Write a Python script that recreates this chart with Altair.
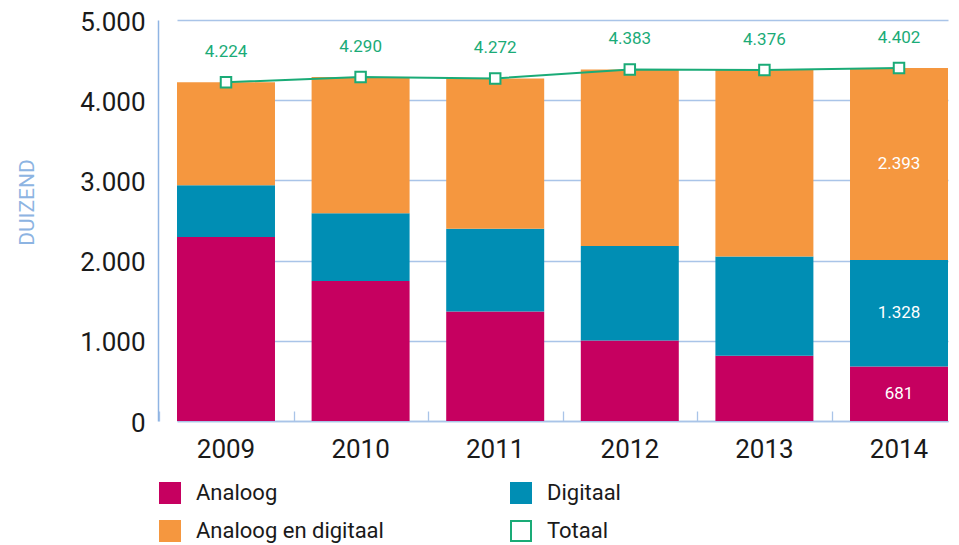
import altair as alt
import pandas as pd

years = ["2009", "2010", "2011", "2012", "2013", "2014"]
analoog = [2294, 1746, 1365, 1004, 813, 681]
digitaal = [644, 843, 1033, 1179, 1237, 1328]
analoog_digitaal = [1286, 1701, 1874, 2200, 2326, 2393]
totaal = [4224, 4290, 4272, 4383, 4376, 4402]

# legend entries are laid out column by column
series_names = ["Analoog", "Analoog en digitaal", "Digitaal", "Totaal"]
fill_colors = ["#c60060", "#f5973f", "#008eb4", "#ffffff"]
stroke_colors = ["#c60060", "#f5973f", "#008eb4", "#1aab77"]
stack_order = {"Analoog": 0, "Digitaal": 1, "Analoog en digitaal": 2}
labelled_year = "2014"

rows = []
for i, y in enumerate(years):
    for name, vals in [("Analoog", analoog), ("Digitaal", digitaal), ("Analoog en digitaal", analoog_digitaal)]:
        rows.append({"year": y, "series": name, "value": vals[i], "order": stack_order[name]})
bars_df = pd.DataFrame(rows)
tot_df = pd.DataFrame({"year": years, "value": totaal, "series": ["Totaal"] * len(years)})

GRID = "#a9c4e8"
GREEN = "#1aab77"
FMT = "replace(format(datum.value, ','), ',', '.')"
PLOT_H = 401

x_scale = alt.Scale(paddingInner=0.272, paddingOuter=0, range=[19, 790])
x_enc = alt.X(
    "year:N", sort=years, scale=x_scale,
    axis=alt.Axis(
        orient="bottom", title=None, labelAngle=0, labelFontSize=26, labelColor="#1a1a1a",
        ticks=False, domain=True, domainColor=GRID, domainWidth=1.5, labelPadding=15,
    ),
)
x_none = alt.X("year:N", sort=years, scale=x_scale, axis=None)
# small upward ticks between the bars, drawn by a second x axis moved onto the baseline
x_ticks = alt.X(
    "year:N", sort=years, scale=x_scale,
    axis=alt.Axis(
        orient="top", offset=-PLOT_H, labels=False, domain=False, ticks=True, grid=False,
        tickSize=10, tickColor=GRID, tickWidth=1.3, bandPosition=0, tickOffset=-18, title=None,
    ),
)

y_scale = alt.Scale(domain=[0, 5000], nice=False)
y_axis = alt.Axis(
    values=[0, 1000, 2000, 3000, 4000, 5000], labelExpr=FMT, ticks=False,
    domain=True, domainColor="#8fb4e3", domainWidth=1.5,
    grid=True, gridColor=GRID, gridWidth=1.3,
    labelFontSize=26, labelColor="#1a1a1a", labelPadding=13, labelOffset=2,
    title="DUIZEND", titleColor="#8db4e2", titleFontSize=21, titleFontWeight="normal",
    titleX=-131, titleY=182, titleAngle=270, titleAlign="center", titleBaseline="middle",
)

fill_scale = alt.Scale(domain=series_names, range=fill_colors)
stroke_scale = alt.Scale(domain=series_names, range=stroke_colors)

legend = alt.Legend(
    title=None, orient="none", legendX=1, legendY=462, columns=2,
    symbolType="square", symbolSize=400, symbolStrokeWidth=2,
    labelFontSize=22, labelColor="#1a1a1a", labelOffset=15,
    rowPadding=10, columnPadding=123, gridAlign="all", labelLimit=400,
)

bars = alt.Chart(bars_df).mark_bar().encode(
    x=x_enc,
    y=alt.Y("value:Q", stack="zero", scale=y_scale, axis=y_axis),
    fill=alt.Fill("series:N", scale=fill_scale, legend=legend),
    stroke=alt.Stroke("series:N", scale=stroke_scale, legend=legend),
    strokeWidth=alt.value(0),
    order=alt.Order("order:Q", sort="ascending"),
)

edge_ticks = alt.Chart(tot_df).mark_line(opacity=0).encode(
    x=x_ticks,
    y=alt.Y("value:Q", scale=y_scale, axis=y_axis),
)

line = alt.Chart(tot_df).mark_line(color=GREEN, strokeWidth=2).encode(
    x=x_none,
    y=alt.Y("value:Q", scale=y_scale, axis=y_axis),
)

points = alt.Chart(tot_df).mark_point(shape="square", filled=True, size=110, strokeWidth=2, opacity=1).encode(
    x=x_none,
    y=alt.Y("value:Q", scale=y_scale, axis=y_axis),
    fill=alt.Fill("series:N", scale=fill_scale, legend=legend),
    stroke=alt.Stroke("series:N", scale=stroke_scale, legend=legend),
)

tot_text = alt.Chart(tot_df).transform_calculate(lbl=FMT).mark_text(
    color=GREEN, fontSize=17, dy=-30, baseline="middle"
).encode(
    x=x_none,
    y=alt.Y("value:Q", scale=y_scale, axis=y_axis),
    text="lbl:N",
)

seg_text = (
    alt.Chart(bars_df)
    .transform_filter(alt.datum.year == labelled_year)
    .transform_stack(
        stack="value", groupby=["year"], as_=["y0", "y1"],
        sort=[alt.SortField("order", order="ascending")],
    )
    .transform_calculate(mid="(datum.y0 + datum.y1) / 2", lbl=FMT)
    .mark_text(color="white", fontSize=17, baseline="middle")
    .encode(
        x=x_none,
        y=alt.Y("mid:Q", scale=y_scale, axis=y_axis),
        text="lbl:N",
    )
)

chart = (
    alt.layer(bars, edge_ticks, line, points, tot_text, seg_text)
    .properties(
        width=793, height=PLOT_H,
        autosize=alt.AutoSizeParams(type="none"),
        padding={"left": 150, "top": 12, "right": 0, "bottom": 124},
    )
    .configure(font="Roboto")
    .configure_view(stroke=None)
)

chart.save("out.html", embed_options={"renderer": "svg", "actions": False})
